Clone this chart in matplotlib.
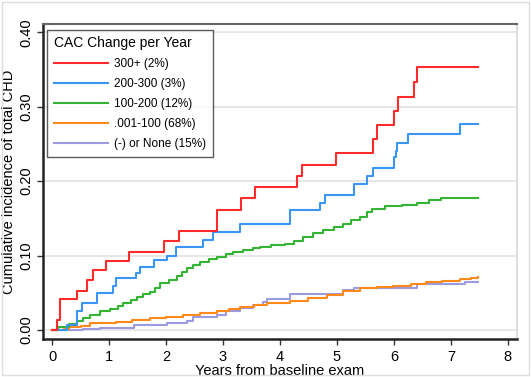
import matplotlib
matplotlib.use("Agg")
import matplotlib.pyplot as plt
from matplotlib.patches import Rectangle

plt.rcParams['font.family'] = ['Liberation Sans', 'DejaVu Sans']

# Data (step curves: time of step, cumulative incidence after step)
red_t = [0, 0.09, 0.14, 0.44, 0.62, 0.72, 0.95, 1.35, 1.97, 2.23, 2.89, 3.32, 3.56, 4.29, 4.38, 4.99,
         5.64, 5.70, 6.00, 6.07, 6.36, 6.40, 7.48]
red_v = [0, 0.013, 0.042, 0.052, 0.067, 0.080, 0.093, 0.105, 0.119, 0.133, 0.161, 0.177, 0.192, 0.207,
         0.222, 0.238, 0.256, 0.275, 0.294, 0.313, 0.333, 0.353, 0.353]

blue_t = [0, 0.26, 0.43, 0.52, 0.78, 1.07, 1.13, 1.48, 1.54, 1.79, 2.01, 2.17, 2.65, 2.83, 3.30, 4.18,
          4.70, 4.79, 5.30, 5.52, 5.64, 6.00, 6.03, 6.06, 6.25, 7.16, 7.48]
blue_v = [0, 0.007, 0.025, 0.036, 0.050, 0.059, 0.070, 0.076, 0.085, 0.094, 0.100, 0.112, 0.121, 0.132,
          0.143, 0.161, 0.170, 0.182, 0.196, 0.207, 0.218, 0.233, 0.241, 0.251, 0.263, 0.277, 0.277]

green_t = [0, 0.10, 0.30, 0.43, 0.55, 0.67, 0.84, 1.02, 1.15, 1.25, 1.38, 1.49, 1.60, 1.72, 1.80, 1.89,
           2.05, 2.19, 2.28, 2.36, 2.48, 2.60, 2.75, 2.89, 3.05, 3.18, 3.35, 3.53, 3.65, 3.85, 4.09, 4.25,
           4.40, 4.58, 4.75, 4.95, 5.11, 5.25, 5.40, 5.52, 5.61, 5.85, 6.14, 6.40, 6.61, 6.82, 7.48]
green_v = [0, 0.004, 0.008, 0.012, 0.016, 0.020, 0.025, 0.028, 0.032, 0.036, 0.040, 0.045, 0.048, 0.051,
           0.057, 0.063, 0.067, 0.072, 0.078, 0.083, 0.088, 0.092, 0.095, 0.098, 0.102, 0.105, 0.108,
           0.110, 0.112, 0.114, 0.116, 0.120, 0.125, 0.130, 0.135, 0.139, 0.143, 0.148, 0.152, 0.158,
           0.163, 0.166, 0.168, 0.171, 0.174, 0.178, 0.178]

orange_t = [0, 0.20, 0.30, 0.50, 0.67, 0.90, 1.13, 1.40, 1.72, 2.00, 2.30, 2.60, 2.89, 3.10, 3.30, 3.55,
            3.77, 4.00, 4.18, 4.50, 4.82, 5.10, 5.40, 5.70, 5.99, 6.30, 6.57, 6.85, 7.16, 7.35, 7.48]
orange_v = [0, 0.002, 0.004, 0.006, 0.009, 0.010, 0.011, 0.013, 0.016, 0.018, 0.020, 0.023, 0.026, 0.028,
            0.031, 0.034, 0.036, 0.037, 0.039, 0.043, 0.047, 0.052, 0.056, 0.058, 0.059, 0.062, 0.065,
            0.066, 0.068, 0.070, 0.071]

purple_t = [0, 0.55, 0.84, 1.43, 2.01, 2.36, 2.48, 2.89, 3.06, 3.30, 3.53, 3.70, 3.77, 4.18, 5.10, 5.30,
            6.40, 7.24, 7.48]
purple_v = [0, 0.001, 0.003, 0.007, 0.009, 0.012, 0.017, 0.020, 0.025, 0.029, 0.033, 0.038, 0.042, 0.049,
            0.054, 0.057, 0.062, 0.064, 0.064]

labels = ["300+ (2%)", "200-300 (3%)", "100-200 (12%)", ".001-100 (68%)", "(-) or None (15%)"]
x_ticks = [0, 1, 2, 3, 4, 5, 6, 7, 8]
y_ticks = [0.0, 0.1, 0.2, 0.3, 0.4]
y_ticklabels = ["0.00", "0.10", "0.20", "0.30", "0.40"]

colors = ["#ff2a2a", "#3a96f5", "#33b533", "#ff8a1a", "#9c9ae0"]
series = [(red_t, red_v), (blue_t, blue_v), (green_t, green_v), (orange_t, orange_v), (purple_t, purple_v)]

fig = plt.figure(figsize=(5.31, 3.77), dpi=100)
fig.patches.append(Rectangle((0.004, 0.004), 0.992, 0.99, transform=fig.transFigure,
                             fill=False, edgecolor="#dddddd", linewidth=1.0))
ax = fig.add_axes([43/531, (377-339)/377, (517-43)/531, (339-24)/377])

for y in y_ticks:
    ax.axhline(y, color="#e3e3e3", linewidth=1.2, zorder=0)

handles = [None]*5
for i in [4, 3, 2, 1, 0]:
    t, v = series[i]
    h, = ax.step(t, v, where='post', color=colors[i], linewidth=1.5, label=labels[i])
    handles[i] = h

ax.set_xlim(-0.16, 8.16)
ax.set_ylim(-0.012, 0.411)
ax.set_xticks(x_ticks)
ax.set_yticks(y_ticks)
ax.set_yticklabels(y_ticklabels, rotation=90, va='center')
ax.tick_params(axis='both', labelsize=10.5, length=4, width=1, color="#333333")
ax.tick_params(axis='x', pad=4)
ax.tick_params(axis='y', pad=3)

for s in ['left', 'bottom']:
    ax.spines[s].set_color("#222222")
    ax.spines[s].set_linewidth(1.8)
ax.spines['top'].set_color("#666666")
ax.spines['top'].set_linewidth(1.5)
ax.spines['right'].set_color("#dddddd")
ax.spines['right'].set_linewidth(1.5)

ax.set_xlabel("Years from baseline exam", fontsize=10.5, labelpad=0)
ax.set_ylabel("Cumulative incidence of total CHD", fontsize=10.5, labelpad=2)

leg = ax.legend(handles=handles, labels=labels, title="CAC Change per Year", loc='upper left',
                bbox_to_anchor=(0.002, 0.993), fontsize=8.5, title_fontsize=10, frameon=True,
                fancybox=False, edgecolor="#333333", handlelength=4.6, handletextpad=0.5,
                labelspacing=0.68, borderpad=0.55, borderaxespad=0.3)
leg.get_frame().set_linewidth(1.0)
leg._legend_box.align = "left"

fig.savefig("out.png", dpi=100)
